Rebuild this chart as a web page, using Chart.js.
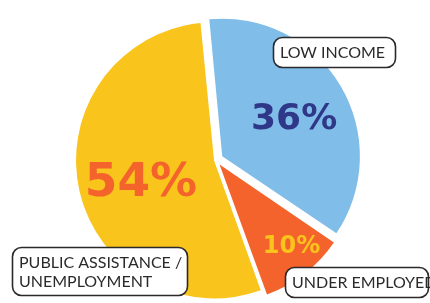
<!DOCTYPE html>
<html>
<head>
<meta charset="utf-8">
<script src="https://cdn.jsdelivr.net/npm/chart.js@4"></script>
<style>
  html, body { margin: 0; padding: 0; background: #fff; }
  canvas { display: block; }
</style>
</head>
<body>
<canvas id="myChart" width="430" height="303"></canvas>
<script>
// ===============================
// DATA
// ===============================
const categories = ['LOW INCOME', 'UNDER EMPLOYED', 'PUBLIC ASSISTANCE / UNEMPLOYMENT'];
const boxLines = [['LOW INCOME'], ['UNDER EMPLOYED'], ['PUBLIC ASSISTANCE /', 'UNEMPLOYMENT']];
const shares = [36, 10, 54];

// ===============================
// STYLE
// ===============================
const sliceColors = ['#80bde9', '#f4632c', '#f9c41c'];
const pctColors = ['#2f3888', '#f9c41c', '#f4632c'];
const pctSizes = [36, 24, 47];
// Chart.js v4 scales arc offset by (1 + fix)/4, so these are bigger than the visible shift
const sliceOffsets = [29, 23, 8];
// % label inside slice: [fraction of radius, degrees from mid-angle]
const pctPlace = [[0.58, 4], [0.785, -3.5], [0.55, -5.3]];
// callout boxes: left, top, width, height
const boxes = [[273, 37, 122, 30], [285, 267, 143, 30], [12, 247, 175, 48]];

function shownOffset(off, circ) {
    const fix = 1 - Math.sin(Math.min(Math.PI, circ));
    return off / 4 * (1 + fix);
}

const labelPlugin = {
    id: 'labels',
    afterDatasetsDraw(chart) {
        const ctx = chart.ctx;
        const meta = chart.getDatasetMeta(0);
        ctx.save();
        ctx.textAlign = 'center';
        ctx.textBaseline = 'middle';
        meta.data.forEach((arc, i) => {
            const p = arc.getProps(['x', 'y', 'startAngle', 'endAngle', 'outerRadius'], true);
            const mid = (p.startAngle + p.endAngle) / 2;
            const off = shownOffset(sliceOffsets[i], p.endAngle - p.startAngle);
            const cx = p.x + Math.cos(mid) * off;
            const cy = p.y + Math.sin(mid) * off;
            const a = mid + pctPlace[i][1] * Math.PI / 180;
            const r = p.outerRadius * pctPlace[i][0];
            ctx.fillStyle = pctColors[i];
            ctx.font = 'bold ' + pctSizes[i] + 'px "DejaVu Sans"';
            ctx.fillText(shares[i] + '%', cx + Math.cos(a) * r, cy + Math.sin(a) * r);
        });

        // callout boxes
        ctx.textAlign = 'left';
        ctx.font = '16px Lato';
        boxes.forEach((b, i) => {
            ctx.beginPath();
            ctx.roundRect(b[0] + 0.5, b[1] + 0.5, b[2], b[3], 9);
            ctx.fillStyle = '#fff';
            ctx.fill();
            ctx.lineWidth = 1.6;
            ctx.strokeStyle = '#2a2a2a';
            ctx.stroke();
            ctx.fillStyle = '#2a2a2a';
            const lines = boxLines[i];
            const lh = 19;
            const y0 = b[1] + b[3] / 2 - (lines.length - 1) * lh / 2 + 1;
            lines.forEach((t, k) => ctx.fillText(t, b[0] + 7, y0 + k * lh));
        });
        ctx.restore();
    }
};

new Chart(document.getElementById('myChart').getContext('2d'), {
    type: 'pie',
    data: {
        labels: categories,
        datasets: [{
            data: shares,
            backgroundColor: sliceColors,
            borderWidth: 0,
            offset: sliceOffsets,
            radius: 136
        }]
    },
    options: {
        responsive: false,
        animation: false,
        rotation: -5.5,
        layout: { padding: { left: 2, right: 0, top: 17, bottom: 0 } },
        plugins: {
            legend: { display: false },
            tooltip: { enabled: false }
        }
    },
    plugins: [labelPlugin]
});
</script>
</body>
</html>
